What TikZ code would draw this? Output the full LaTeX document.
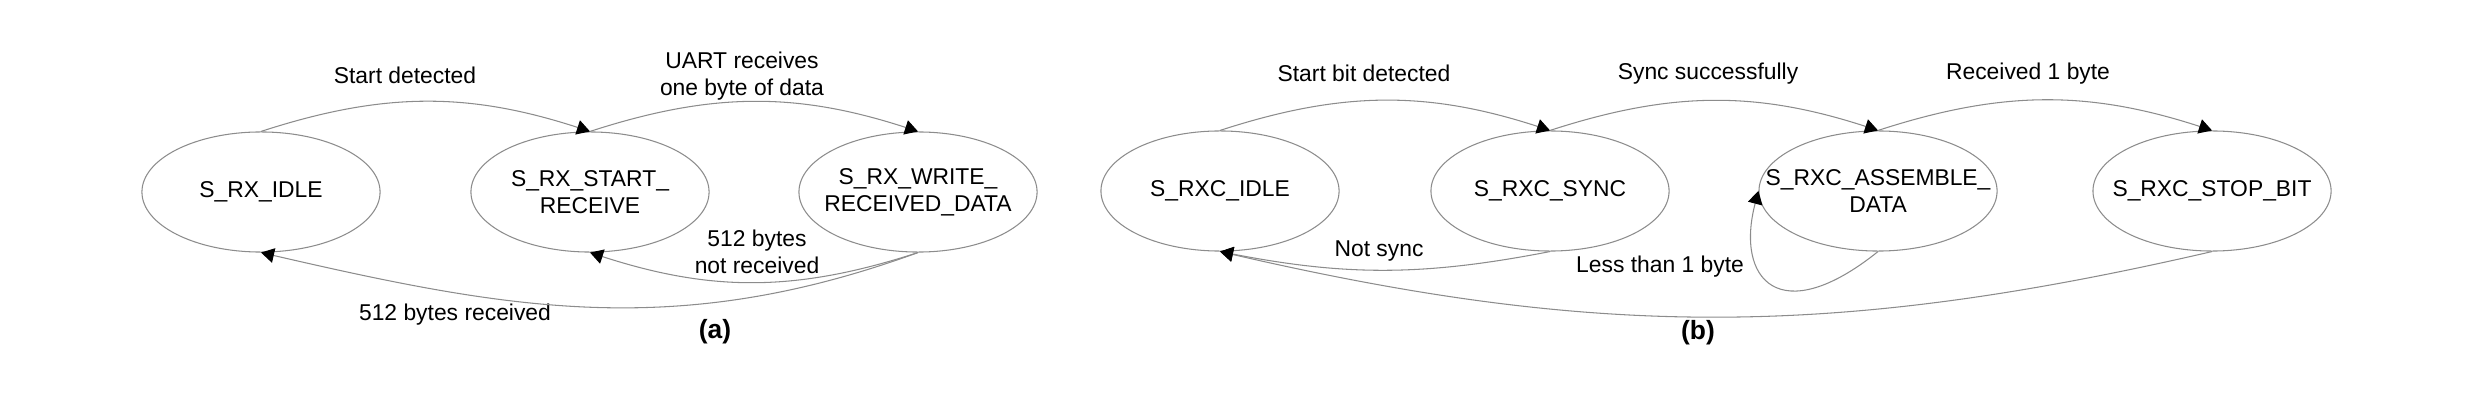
\documentclass[tikz,border=0pt]{standalone}
\usepackage{fontspec}
\setmainfont{Liberation Sans}
\usetikzlibrary{positioning,arrows.meta,shapes.geometric}
\tikzset{
  transarrow/.style={-{Triangle[length=3.7pt,width=4.2pt,color=black]}, draw=gray!90, line width=0.3pt},
  statenode/.style={draw=gray!90, line width=0.3pt, ellipse, minimum width=2.38cm, minimum height=1.2cm, inner xsep=-1cm, inner ysep=0pt, align=center},
  edgelabel/.style={align=center, inner sep=0pt},
  sublabel/.style={font=\fontsize{7.5pt}{9pt}\selectfont\bfseries, inner sep=0pt}
}

\begin{document}
\begin{tikzpicture}[x=0.01cm, y=0.01cm, every node/.style={font=\fontsize{6.5pt}{7.7pt}\selectfont}]
      \useasboundingbox (0,0) rectangle (2486,412);
      \node[statenode] (rxidle) at (261,220) {S\_RX\_IDLE};
      \node[statenode] (rxstart) at (590,220) {S\_RX\_START\_\\RECEIVE};
      \node[statenode] (rxwrite) at (918,220) {S\_RX\_WRITE\_\\RECEIVED\_DATA};
      \node[edgelabel] (lstart) at (405,337) {Start detected};
      \node[edgelabel] (luart) at (742,336) {UART receives\\one byte of data};
      \node[edgelabel] (lnotrcv) at (757,160) {512 bytes\\not received};
      \node[edgelabel] (lrcv) at (455,97) {512 bytes received};
      \node[sublabel] (capa) at (715,80) {(a)};
      \draw[transarrow] (rxidle.north) to[out=18, in=162] (rxstart.north);
      \draw[transarrow] (rxstart.north) to[out=18, in=162] (rxwrite.north);
      \draw[transarrow] (rxwrite.south) to[out=-162, in=-18] (rxstart.south);
      \draw[transarrow] (rxwrite.south) to[out=-160, in=-13] (rxidle.south);
      \node[statenode] (rxcidle) at (1220,221) {S\_RXC\_IDLE};
      \node[statenode] (rxcsync) at (1550,221) {S\_RXC\_SYNC};
      \node[statenode] (rxcasm) at (1878,221) {S\_RXC\_ASSEMBLE\_\\DATA};
      \node[statenode] (rxcstop) at (2212,221) {S\_RXC\_STOP\_BIT};
      \node[edgelabel] (lstartbit) at (1364,339) {Start bit detected};
      \node[edgelabel] (lsync) at (1708,338) {Sync successfully};
      \node[edgelabel] (lbyte) at (2028,338) {Received 1 byte};
      \node[edgelabel] (lnotsync) at (1379,161) {Not sync};
      \node[edgelabel] (lless) at (1660,145) {Less than 1 byte};
      \node[sublabel] (capb) at (1698,79) {(b)};
      \draw[transarrow] (rxcidle.north) to[out=18, in=162] (rxcsync.north);
      \draw[transarrow] (rxcsync.north) to[out=18, in=162] (rxcasm.north);
      \draw[transarrow] (rxcasm.north) to[out=18, in=162] (rxcstop.north);
      \draw[transarrow] (rxcsync.south) to[out=-169, in=-11] (rxcidle.south);
      \draw[transarrow] (rxcasm.south) .. controls (1780,82) and (1735,132) .. (rxcasm.west);
      \draw[transarrow] (rxcstop.south) to[out=-167, in=-13] (rxcidle.south);
    \end{tikzpicture}
\end{document}
